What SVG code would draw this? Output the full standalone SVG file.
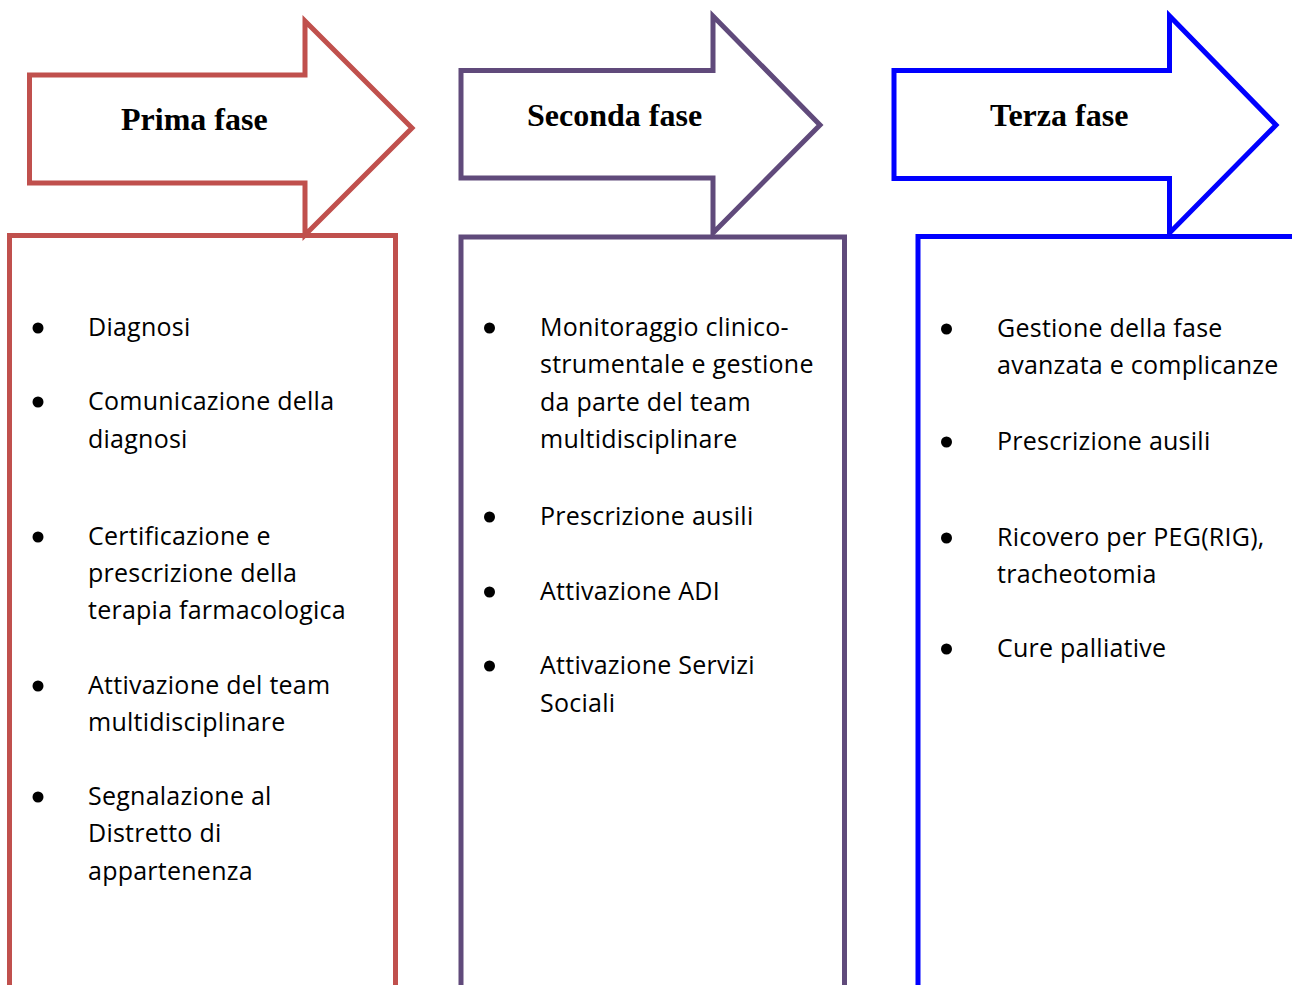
<svg xmlns="http://www.w3.org/2000/svg" width="1292" height="985" viewBox="0 0 1292 985">
<style>
.shape{fill:#fff;stroke-width:5;stroke-linejoin:miter;stroke-miterlimit:10}
.red{stroke:#C0504D}
.purple{stroke:#604A7B}
.blue{stroke:#0000FF}
.title{font-family:"Liberation Serif","Times New Roman",serif;font-weight:bold;font-size:32px;fill:#000}
.body{font-family:"Open Sans",Lato,sans-serif;font-size:25px;letter-spacing:0.25px;fill:#000}
.dot{fill:#000}
</style>
<rect width="1292" height="985" fill="#fff"/>
<g id="fase1">
<rect class="shape red" x="9.5" y="235.5" width="386" height="760"/>
<polygon class="shape red" points="29.5,75 305,75 305,21 412,128 305,235 305,183 29.5,183"/>
<text class="title" x="121" y="130">Prima fase</text>
<circle class="dot" cx="38" cy="328" r="5.5"/>
<text class="body" x="88" y="336">Diagnosi</text>
<circle class="dot" cx="38" cy="402" r="5.5"/>
<text class="body" x="88" y="410">Comunicazione della</text>
<text class="body" x="88" y="448">diagnosi</text>
<circle class="dot" cx="38" cy="537" r="5.5"/>
<text class="body" x="88" y="545">Certificazione e</text>
<text class="body" x="88" y="582">prescrizione della</text>
<text class="body" x="88" y="619">terapia farmacologica</text>
<circle class="dot" cx="38" cy="686" r="5.5"/>
<text class="body" x="88" y="694">Attivazione del team</text>
<text class="body" x="88" y="731">multidisciplinare</text>
<circle class="dot" cx="38" cy="797" r="5.5"/>
<text class="body" x="88" y="805">Segnalazione al</text>
<text class="body" x="88" y="842">Distretto di</text>
<text class="body" x="88" y="880">appartenenza</text>
</g>
<g id="fase2">
<rect class="shape purple" x="461" y="237" width="383.5" height="760"/>
<polygon class="shape purple" points="461,70.5 713,70.5 713,16 820,125 713,233 713,178 461,178"/>
<text class="title" x="527" y="126">Seconda fase</text>
<circle class="dot" cx="489.5" cy="328" r="5.5"/>
<text class="body" x="540" y="336">Monitoraggio clinico-</text>
<text class="body" x="540" y="373">strumentale e gestione</text>
<text class="body" x="540" y="411">da parte del team</text>
<text class="body" x="540" y="448">multidisciplinare</text>
<circle class="dot" cx="489.5" cy="517" r="5.5"/>
<text class="body" x="540" y="525">Prescrizione ausili</text>
<circle class="dot" cx="489.5" cy="592" r="5.5"/>
<text class="body" x="540" y="600">Attivazione ADI</text>
<circle class="dot" cx="489.5" cy="666" r="5.5"/>
<text class="body" x="540" y="674">Attivazione Servizi</text>
<text class="body" x="540" y="712">Sociali</text>
</g>
<g id="fase3">
<rect class="shape blue" x="918" y="236.5" width="400" height="760"/>
<polygon class="shape blue" points="894,70.5 1169.5,70.5 1169.5,16 1276,125 1169.5,233 1169.5,178.5 894,178.5"/>
<text class="title" x="990" y="126">Terza fase</text>
<circle class="dot" cx="946.5" cy="329" r="5.5"/>
<text class="body" x="997" y="337">Gestione della fase</text>
<text class="body" x="997" y="374">avanzata e complicanze</text>
<circle class="dot" cx="946.5" cy="442" r="5.5"/>
<text class="body" x="997" y="450">Prescrizione ausili</text>
<circle class="dot" cx="946.5" cy="538" r="5.5"/>
<text class="body" x="997" y="546">Ricovero per PEG(RIG),</text>
<text class="body" x="997" y="583">tracheotomia</text>
<circle class="dot" cx="946.5" cy="649" r="5.5"/>
<text class="body" x="997" y="657">Cure palliative</text>
</g>
<g id="connectors"></g>
</svg>
